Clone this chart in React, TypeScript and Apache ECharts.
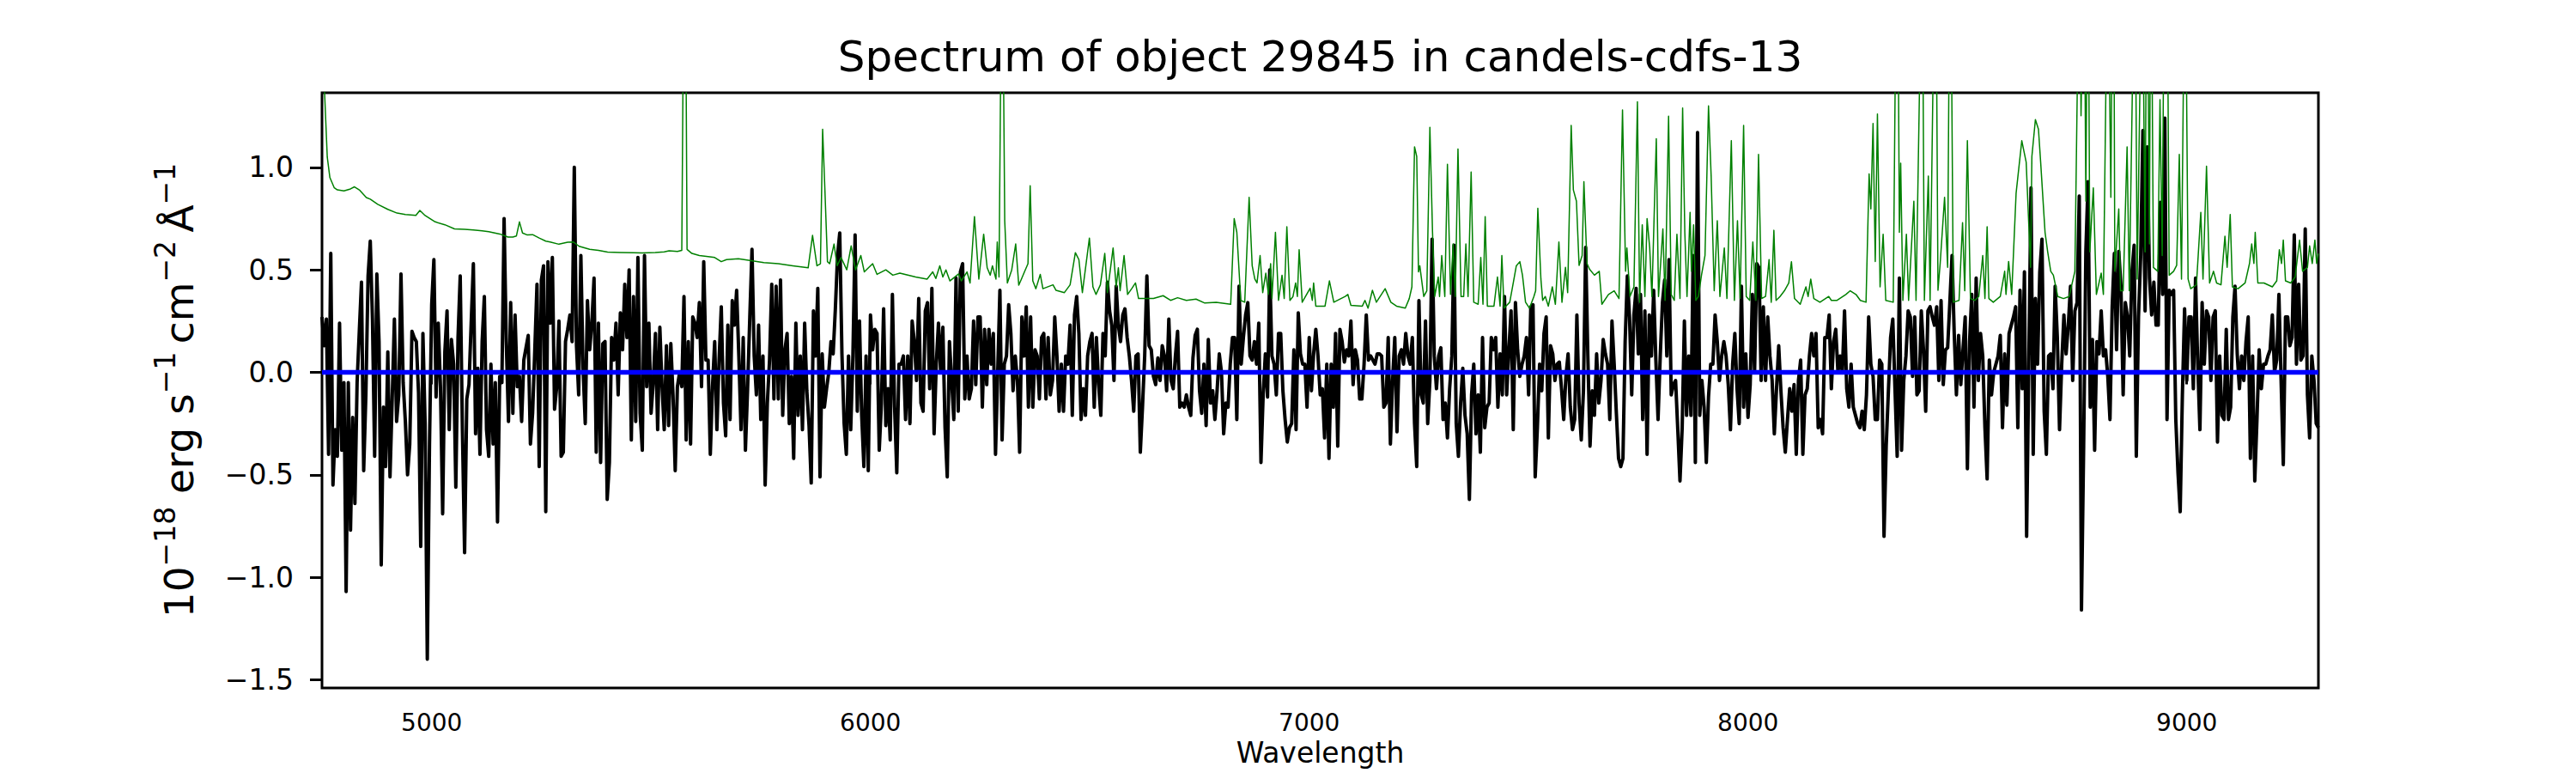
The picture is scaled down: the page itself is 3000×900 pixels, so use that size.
import React, { useEffect, useRef } from "react";
import * as echarts from "echarts";

const TITLE = "Spectrum of object 29845 in candels-cdfs-13";
const X_LABEL = "Wavelength";
const X_RANGE = [4750, 9300];
const Y_RANGE = [-1.54, 1.364];
const X_TICKS = [5000, 6000, 7000, 8000, 9000];
const Y_TICKS = [-1.5, -1.0, -0.5, 0.0, 0.5, 1.0];
const ZERO_LEVEL = 0;

const WAVE_START = 4750;
const WAVE_STEP = 5;
const FLUX = [
  0.27, 0.13, 0.26, -0.40, 0.58, -0.55, -0.28, -0.41, 0.24, -0.38,
  -0.05, -1.07, -0.05, -0.77, -0.22, -0.64, -0.05, 0.20, 0.44, -0.48,
  -0.11, 0.47, 0.64, 0.26, -0.41, 0.48, 0.15, -0.94, -0.17, -0.46,
  0.10, -0.51, -0.13, 0.26, -0.24, -0.11, 0.48, -0.05, -0.24, -0.50,
  -0.35, 0.20, 0.17, 0.15, -0.10, -0.85, 0.19, -0.25, -1.40, -0.35,
  0.33, 0.55, -0.12, 0.24, -0.07, -0.69, 0.10, 0.30, -0.28, 0.16,
  0.04, -0.56, 0.17, 0.47, -0.28, -0.88, -0.13, -0.06, 0.24, 0.53,
  -0.30, 0.02, -0.40, 0.15, 0.37, -0.28, -0.41, 0.04, -0.35, -0.05,
  -0.73, -0.02, -0.05, 0.75, 0.15, -0.24, 0.34, -0.20, 0.28, -0.07,
  -0.02, -0.24, 0.06, 0.12, 0.18, -0.35, -0.20, 0.11, 0.43, -0.46,
  0.45, 0.52, -0.68, 0.54, 0.24, 0.56, -0.18, -0.07, 0.25, -0.41,
  -0.39, 0.15, 0.21, 0.28, 0.15, 1.00, 0.13, -0.11, 0.57, 0.02,
  -0.25, 0.35, 0.11, 0.24, 0.46, -0.39, 0.24, -0.44, 0.14, 0.15,
  -0.62, -0.44, 0.17, 0.06, 0.24, -0.11, 0.29, 0.11, 0.43, 0.17,
  0.50, -0.33, 0.37, -0.24, 0.56, -0.20, -0.38, 0.57, -0.07, 0.24,
  -0.20, -0.05, 0.19, -0.28, 0.22, -0.07, -0.28, 0.13, -0.26, 0.14,
  -0.11, -0.48, -0.07, 0.00, -0.07, 0.37, -0.33, 0.15, -0.35, 0.27,
  0.24, 0.17, 0.34, -0.07, 0.54, 0.06, 0.06, -0.40, -0.07, 0.15,
  -0.28, 0.06, 0.32, -0.15, -0.31, 0.23, -0.23, 0.35, 0.23, 0.40,
  0.08, -0.28, 0.17, -0.38, -0.08, 0.27, 0.60, 0.08, -0.11, 0.23,
  -0.23, 0.08, -0.55, -0.15, 0.06, 0.43, -0.13, 0.42, -0.13, 0.45,
  -0.21, 0.11, 0.19, -0.25, -0.02, -0.42, 0.24, -0.21, 0.08, -0.28,
  0.24, -0.09, -0.26, -0.54, 0.30, 0.08, 0.41, -0.51, 0.09, -0.17,
  -0.08, 0.00, 0.15, 0.09, 0.31, 0.57, 0.68, 0.09, -0.25, -0.40,
  0.08, -0.28, 0.08, 0.67, -0.19, 0.25, -0.21, -0.46, 0.08, -0.48,
  0.28, 0.11, 0.21, 0.19, -0.38, -0.15, 0.31, -0.26, -0.08, -0.33,
  0.38, -0.17, -0.49, 0.04, 0.04, 0.08, -0.23, 0.08, -0.25, 0.25,
  0.15, -0.04, 0.36, -0.15, -0.19, 0.30, 0.34, -0.08, 0.41, -0.30,
  0.04, 0.24, 0.00, 0.22, -0.27, -0.51, 0.15, -0.04, -0.23, 0.46,
  -0.19, 0.49, 0.53, -0.13, 0.08, -0.13, -0.08, 0.25, -0.06, 0.27,
  0.27, -0.17, 0.21, -0.06, 0.21, 0.04, 0.19, -0.40, 0.00, 0.40,
  -0.33, 0.04, 0.08, 0.33, 0.19, -0.09, 0.08, -0.04, -0.39, 0.27,
  0.08, 0.32, -0.17, 0.27, -0.17, 0.11, 0.08, -0.13, 0.17, 0.19,
  -0.13, 0.17, -0.11, -0.04, 0.27, 0.08, -0.19, 0.04, -0.19, 0.08,
  0.04, 0.23, -0.21, 0.28, 0.37, 0.19, -0.23, -0.08, -0.21, 0.08,
  0.15, 0.19, -0.17, 0.17, -0.06, -0.21, 0.19, 0.08, 0.44, 0.30,
  0.23, -0.04, 0.42, 0.23, 0.15, 0.28, 0.31, 0.17, 0.08, -0.04,
  -0.19, 0.08, 0.09, -0.39, -0.17, 0.08, 0.47, 0.13, 0.11, -0.02,
  -0.06, 0.07, -0.04, 0.13, 0.08, -0.09, 0.26, -0.04, -0.08, 0.08,
  0.20, -0.17, -0.15, -0.17, -0.11, -0.17, -0.21, 0.07, 0.18, 0.21,
  -0.09, -0.20, 0.04, -0.26, 0.16, -0.15, -0.09, -0.23, -0.09, 0.09,
  0.00, -0.30, -0.15, -0.17, 0.04, 0.17, 0.17, -0.23, 0.42, 0.04,
  0.17, 0.28, 0.34, 0.08, 0.06, 0.15, 0.04, 0.24, -0.44, -0.11,
  0.09, -0.12, 0.50, 0.08, 0.04, -0.11, 0.19, 0.19, -0.09, -0.23,
  -0.34, -0.27, -0.25, 0.11, -0.28, 0.29, 0.09, 0.04, 0.04, -0.17,
  0.17, -0.09, 0.09, 0.21, 0.08, -0.11, -0.08, -0.32, 0.04, -0.42,
  0.04, -0.17, 0.19, -0.36, 0.21, 0.15, 0.05, 0.11, 0.08, 0.25,
  -0.06, 0.11, 0.06, -0.13, -0.13, 0.04, 0.28, 0.06, 0.08, 0.06,
  0.04, 0.09, 0.09, 0.08, -0.17, -0.15, 0.17, -0.35, -0.04, 0.17,
  -0.29, 0.08, 0.11, 0.04, 0.19, 0.08, 0.04, 0.17, -0.25, -0.46,
  0.35, -0.11, -0.15, 0.25, -0.25, -0.04, 0.65, 0.08, -0.08, 0.08,
  0.12, -0.23, -0.15, -0.32, -0.08, 0.08, 0.62, -0.25, -0.41, -0.15,
  0.02, -0.21, -0.30, -0.62, -0.11, 0.04, -0.30, -0.11, -0.39, 0.17,
  -0.27, -0.17, -0.15, 0.17, 0.11, 0.17, -0.17, 0.09, -0.11, 0.37,
  -0.11, 0.11, 0.30, -0.28, 0.34, 0.11, -0.02, 0.04, 0.08, 0.17,
  -0.11, 0.32, 0.33, -0.51, -0.27, 0.04, -0.09, 0.19, 0.27, -0.32,
  0.13, 0.09, -0.04, 0.04, 0.05, -0.08, -0.23, -0.02, 0.09, -0.17,
  -0.28, -0.23, 0.28, -0.15, -0.33, -0.09, 0.61, 0.08, -0.36, -0.09,
  -0.21, 0.09, -0.15, -0.04, 0.16, 0.09, 0.04, -0.23, 0.25, 0.04,
  -0.20, -0.42, -0.46, -0.42, 0.15, 0.47, 0.27, -0.11, 0.28, 0.41,
  0.09, 0.38, -0.23, 0.30, -0.40, 0.28, 0.08, 0.40, 0.06, -0.23,
  0.08, 0.34, 0.45, 0.08, 0.55, -0.11, -0.06, -0.04, -0.28, -0.53,
  -0.27, 0.25, -0.21, 0.08, -0.21, 0.57, -0.44, 1.17, -0.21, -0.04,
  -0.17, -0.44, -0.12, 0.04, 0.04, 0.28, 0.15, -0.04, 0.08, 0.15,
  0.08, -0.06, -0.28, 0.04, 0.19, -0.08, -0.25, 0.42, -0.17, 0.09,
  -0.22, -0.06, 0.38, 0.00, 0.53, 0.51, -0.04, 0.32, -0.04, 0.27,
  0.08, -0.04, -0.30, -0.08, 0.13, -0.09, -0.27, -0.39, -0.23, -0.08,
  -0.19, -0.06, -0.40, -0.04, 0.06, -0.40, -0.11, -0.08, 0.08, 0.19,
  0.08, 0.19, -0.27, -0.23, -0.30, 0.17, 0.17, 0.28, -0.08, 0.15,
  0.21, 0.00, 0.08, 0.00, 0.30, -0.08, -0.17, 0.04, -0.17, -0.21,
  -0.25, -0.27, -0.19, -0.28, -0.11, 0.27, 0.04, -0.02, -0.23, -0.23,
  0.06, 0.04, -0.80, -0.36, -0.09, 0.17, 0.26, -0.08, -0.41, 0.46,
  -0.38, -0.04, 0.08, 0.30, 0.27, -0.02, 0.27, -0.11, -0.09, 0.30,
  0.11, -0.19, 0.30, 0.32, 0.27, 0.23, 0.32, -0.04, 0.35, -0.06,
  0.11, 0.12, 0.34, 0.57, 0.19, -0.11, 0.18, -0.06, 0.11, 0.27,
  -0.47, 0.15, 0.38, -0.17, 0.46, -0.04, 0.19, 0.08, -0.27, -0.52,
  0.06, -0.11, 0.00, 0.04, 0.08, 0.18, -0.27, 0.09, -0.16, 0.19,
  0.23, 0.27, 0.32, -0.27, 0.40, -0.08, 0.49, -0.80, 0.04, 0.90,
  -0.40, 0.36, 0.04, 0.49, 0.65, -0.19, -0.40, 0.08, 0.09, -0.08,
  0.42, 0.17, -0.28, 0.04, 0.28, 0.09, 0.23, 0.42, -0.04, 0.30,
  0.34, 0.86, -1.16, -0.36, 0.59, 0.93, -0.17, 0.16, -0.38, 0.15,
  0.09, 0.30, 0.08, 0.11, -0.02, -0.23, 0.32, 0.58, 0.11, 0.59,
  0.42, -0.11, 0.34, 0.27, 0.08, 0.49, 0.62, -0.41, 0.27, 0.57,
  1.18, 0.30, 1.10, 0.46, 0.28, 0.44, 0.23, 0.23, 0.83, 0.38,
  1.24, -0.23, 0.40, 0.38, 0.40, -0.23, -0.49, -0.68, -0.11, 0.31,
  -0.04, 0.27, 0.27, -0.08, 0.46, 0.04, -0.28, 0.34, 0.04, 0.30,
  0.27, -0.04, 0.27, 0.30, -0.34, 0.08, -0.21, -0.23, 0.21, -0.23,
  -0.17, 0.27, 0.42, 0.09, -0.08, 0.08, -0.04, 0.15, 0.27, -0.42,
  0.08, -0.53, -0.23, 0.11, -0.08, 0.04, 0.04, 0.08, 0.11, 0.28,
  0.00, 0.06, 0.38, -0.04, -0.45, 0.27, 0.27, 0.13, 0.17, 0.67,
  0.04, 0.43, 0.06, 0.08, 0.70, -0.11, -0.32, 0.08, -0.04, -0.25,
  -0.27,
];

// Noise / error spectrum as [wavelength, value] vertices (values above the top are clipped)
const NOISE: [number, number][] = [
  [4750,1.8],[4756,1.36],[4762,1.05],[4768,0.95],[4778,0.9],[4785,0.89],[4800,0.885],[4815,0.895],[4824,0.905],[4835,0.89],
  [4851,0.853],[4860,0.845],[4877,0.82],[4900,0.795],[4921,0.777],[4940,0.77],[4964,0.766],[4973,0.79],[4985,0.765],[5008,0.734],
  [5030,0.72],[5052,0.7],[5075,0.698],[5095,0.695],[5115,0.69],[5130,0.686],[5155,0.675],[5174,0.66],[5185,0.66],[5193,0.665],
  [5200,0.734],[5207,0.68],[5218,0.67],[5230,0.672],[5245,0.655],[5260,0.64],[5270,0.636],[5290,0.625],[5310,0.635],[5323,0.636],
  [5336,0.615],[5360,0.6],[5380,0.595],[5401,0.587],[5430,0.585],[5460,0.584],[5480,0.582],[5510,0.585],[5530,0.588],[5541,0.593],
  [5560,0.59],[5570,0.595],[5574,1.8],[5579,1.8],[5582,0.6],[5593,0.58],[5610,0.57],[5630,0.565],[5645,0.56],[5660,0.54],
  [5672,0.55],[5699,0.554],[5725,0.546],[5757,0.535],[5790,0.53],[5823,0.52],[5858,0.51],[5868,0.668],[5878,0.52],[5886,0.53],
  [5891,1.186],[5896,0.9],[5902,0.54],[5907,0.53],[5917,0.626],[5924,0.52],[5933,0.56],[5946,0.5],[5956,0.617],[5966,0.5],
  [5978,0.57],[5986,0.49],[6005,0.53],[6015,0.478],[6035,0.5],[6051,0.474],[6067,0.484],[6103,0.465],[6129,0.455],[6142,0.49],
  [6149,0.458],[6158,0.52],[6165,0.465],[6172,0.5],[6181,0.446],[6201,0.48],[6207,0.446],[6220,0.49],[6227,0.436],[6237,0.76],
  [6247,0.455],[6258,0.674],[6266,0.51],[6273,0.474],[6278,0.52],[6286,0.455],[6289,0.636],[6293,0.465],[6298,1.8],[6302,1.8],
  [6306,0.74],[6312,0.436],[6322,0.5],[6331,0.626],[6338,0.425],[6344,0.455],[6351,0.49],[6359,0.53],[6364,0.91],[6370,0.446],
  [6377,0.408],[6387,0.478],[6393,0.408],[6416,0.427],[6423,0.4],[6442,0.389],[6455,0.427],[6467,0.584],[6475,0.55],[6483,0.389],
  [6499,0.655],[6507,0.417],[6514,0.38],[6524,0.427],[6534,0.58],[6540,0.389],[6553,0.607],[6560,0.417],[6565,0.51],[6569,0.398],
  [6578,0.57],[6586,0.38],[6596,0.41],[6604,0.436],[6611,0.36],[6625,0.36],[6645,0.36],[6667,0.374],[6684,0.351],[6700,0.364],
  [6720,0.351],[6742,0.357],[6762,0.338],[6788,0.342],[6821,0.332],[6829,0.75],[6835,0.683],[6844,0.351],[6853,0.342],[6863,0.854],
  [6870,0.52],[6876,0.455],[6881,0.436],[6888,0.57],[6894,0.389],[6901,0.484],[6907,0.38],[6912,0.53],[6915,0.36],[6923,0.683],
  [6930,0.351],[6938,0.474],[6943,0.36],[6949,0.71],[6956,0.351],[6963,0.37],[6969,0.436],[6973,0.37],[6977,0.598],[6984,0.342],
  [7002,0.41],[7007,0.351],[7010,0.436],[7015,0.323],[7036,0.323],[7046,0.446],[7056,0.342],[7082,0.37],[7088,0.38],[7095,0.327],
  [7121,0.323],[7127,0.351],[7134,0.313],[7144,0.4],[7153,0.342],[7173,0.408],[7186,0.342],[7199,0.323],[7219,0.313],[7228,0.36],
  [7234,0.417],[7240,1.1],[7245,1.053],[7249,0.49],[7252,0.52],[7261,0.37],[7268,0.398],[7275,1.195],[7281,0.683],[7286,0.37],
  [7294,0.465],[7297,0.37],[7302,0.57],[7309,0.37],[7315,1.015],[7322,0.38],[7328,0.626],[7333,0.37],[7339,1.09],[7346,0.37],
  [7352,0.37],[7357,0.626],[7362,0.37],[7369,0.977],[7375,0.342],[7385,0.332],[7391,0.56],[7396,0.332],[7401,0.76],[7406,0.323],
  [7421,0.323],[7429,0.465],[7435,0.323],[7439,0.57],[7444,0.313],[7457,0.342],[7465,0.436],[7472,0.52],[7480,0.54],[7486,0.474],
  [7493,0.342],[7502,0.313],[7512,0.37],[7516,0.398],[7521,0.8],[7528,0.455],[7532,0.351],[7538,0.37],[7545,0.323],[7554,0.417],
  [7561,0.332],[7569,0.636],[7576,0.342],[7584,0.512],[7589,0.389],[7597,1.205],[7602,0.89],[7609,0.835],[7615,0.522],[7622,0.57],
  [7626,0.93],[7633,0.531],[7639,0.503],[7650,0.474],[7661,0.493],[7667,0.332],[7682,0.38],[7695,0.398],[7706,0.36],[7714,1.28],
  [7721,0.493],[7724,0.607],[7731,0.37],[7740,0.417],[7748,1.32],[7753,0.342],[7759,0.72],[7765,0.37],[7770,0.75],[7776,0.607],
  [7781,0.37],[7791,1.14],[7796,0.37],[7806,0.7],[7811,0.351],[7819,1.25],[7825,0.38],[7832,0.351],[7838,0.674],[7845,0.36],
  [7851,1.29],[7856,0.683],[7861,0.37],[7868,0.78],[7871,0.493],[7876,0.72],[7881,0.351],[7887,0.37],[7894,0.474],[7902,0.57],
  [7910,1.3],[7916,0.958],[7923,0.398],[7930,0.74],[7936,0.37],[7946,0.607],[7952,0.36],[7962,1.13],[7969,0.351],[7976,0.74],
  [7982,0.36],[7990,1.205],[7996,0.37],[8004,0.351],[8011,0.636],[8018,0.351],[8024,1.063],[8031,0.36],[8040,0.37],[8048,0.55],
  [8053,0.342],[8059,0.693],[8064,0.351],[8073,0.37],[8083,0.398],[8093,0.436],[8099,0.54],[8106,0.36],[8119,0.332],[8132,0.417],
  [8137,0.37],[8143,0.455],[8150,0.36],[8164,0.342],[8184,0.37],[8190,0.351],[8203,0.351],[8223,0.38],[8233,0.398],[8246,0.38],
  [8256,0.351],[8269,0.342],[8276,0.968],[8280,0.797],[8285,1.214],[8290,0.541],[8295,1.26],[8301,0.417],[8308,0.674],[8314,0.351],
  [8331,0.342],[8337,1.8],[8342,1.8],[8345,0.683],[8348,1.02],[8353,0.351],[8361,0.674],[8366,0.351],[8378,0.835],[8383,0.351],
  [8394,1.8],[8398,1.8],[8402,0.351],[8411,0.958],[8415,0.351],[8424,1.8],[8429,1.8],[8433,0.4],[8438,0.531],[8448,0.854],
  [8455,0.512],[8459,1.8],[8463,1.8],[8468,0.342],[8481,0.351],[8489,0.73],[8494,0.398],[8500,1.13],[8507,0.36],[8517,0.351],
  [8526,0.37],[8535,0.57],[8540,0.36],[8545,0.71],[8549,0.36],[8559,0.342],[8575,0.37],[8585,0.493],[8588,0.38],[8594,0.541],
  [8601,0.38],[8611,0.873],[8624,1.13],[8634,1.025],[8644,0.512],[8647,1.053],[8655,1.233],[8662,1.186],[8667,1.025],[8677,0.683],
  [8683,0.588],[8690,0.493],[8696,0.474],[8706,0.37],[8719,0.36],[8732,0.37],[8745,0.493],[8753,1.8],[8757,1.8],[8759,1.252],
  [8763,1.8],[8767,1.8],[8770,0.835],[8773,1.8],[8776,1.8],[8779,0.588],[8787,0.9],[8794,0.38],[8805,0.484],[8810,0.38],
  [8818,1.8],[8822,1.8],[8827,0.854],[8830,1.8],[8834,1.8],[8836,0.493],[8845,0.797],[8849,0.398],[8855,0.398],[8864,1.1],
  [8869,0.398],[8879,1.8],[8883,1.8],[8887,0.455],[8896,1.8],[8900,1.8],[8905,0.588],[8908,1.8],[8911,1.8],[8915,0.626],
  [8917,1.8],[8920,1.8],[8924,0.512],[8934,0.493],[8939,1.33],[8944,0.57],[8948,1.8],[8956,1.8],[8960,0.474],[8970,0.493],
  [8977,0.522],[8983,1.063],[8988,0.455],[8994,1.8],[8998,1.8],[9003,0.455],[9009,0.408],[9022,0.427],[9032,0.78],[9037,0.455],
  [9045,1.006],[9052,0.436],[9061,0.493],[9068,0.436],[9078,0.427],[9087,0.664],[9092,0.512],[9099,0.77],[9104,0.417],[9117,0.408],
  [9133,0.436],[9143,0.531],[9148,0.626],[9153,0.531],[9156,0.683],[9162,0.436],[9176,0.436],[9195,0.417],[9205,0.446],[9211,0.598],
  [9216,0.531],[9220,0.645],[9225,0.446],[9237,0.436],[9247,0.465],[9257,0.645],[9264,0.493],[9275,0.512],[9280,0.617],[9286,0.531],
  [9292,0.645],[9296,0.531],[9300,0.58],
];

const FONT = "DejaVu Sans";
const MINUS = "\u2212";

function fmtTick(v: number): string {
  const s = Math.abs(v).toFixed(1);
  return v < 0 ? MINUS + s : s;
}

export default function App() {
  const ref = useRef<HTMLDivElement>(null);

  useEffect(() => {
    document.body.style.margin = "0";
    const el = ref.current;
    if (!el) return;
    const chart = echarts.init(el, null, { renderer: "svg" });

    const fluxData = FLUX.map((v, i) => [WAVE_START + i * WAVE_STEP, v]);
    const zeroData = [
      [X_RANGE[0], ZERO_LEVEL],
      [X_RANGE[1], ZERO_LEVEL],
    ];

    const gridLeft = 375;
    const gridTop = 108;
    const gridRight = 300;
    const gridBottom = 99;
    const plotCenterX = gridLeft + (3000 - gridLeft - gridRight) / 2;
    const plotCenterY = gridTop + (900 - gridTop - gridBottom) / 2;

    chart.setOption({
      animation: false,
      backgroundColor: "#ffffff",
      textStyle: { fontFamily: FONT },
      grid: {
        left: gridLeft,
        top: gridTop,
        right: gridRight,
        bottom: gridBottom,
        show: true,
        borderColor: "#000000",
        borderWidth: 3,
        backgroundColor: "transparent",
        containLabel: false,
      },
      xAxis: {
        type: "value",
        min: X_RANGE[0],
        max: X_RANGE[1],
        axisLine: { show: false },
        splitLine: { show: false },
        axisTick: {
          show: true,
          length: 14,
          lineStyle: { color: "#000", width: 3 },
          customValues: X_TICKS,
        },
        axisLabel: {
          show: true,
          margin: 26,
          fontSize: 28,
          color: "#000",
          fontFamily: FONT,
          customValues: X_TICKS,
          formatter: (v: number) => String(Math.round(v)),
        },
      },
      yAxis: {
        type: "value",
        min: Y_RANGE[0],
        max: Y_RANGE[1],
        axisLine: { show: false },
        splitLine: { show: false },
        axisTick: {
          show: true,
          length: 14,
          lineStyle: { color: "#000", width: 3 },
          customValues: Y_TICKS,
        },
        axisLabel: {
          show: true,
          margin: 33,
          fontSize: 33,
          color: "#000",
          fontFamily: FONT,
          customValues: Y_TICKS,
          formatter: (v: number) => fmtTick(v),
        },
      },
      graphic: [
        {
          type: "text",
          x: plotCenterX,
          y: 66,
          style: {
            text: TITLE,
            fontSize: 50,
            fontFamily: FONT,
            fill: "#000",
            align: "center",
            verticalAlign: "middle",
          },
        },
        {
          type: "text",
          x: plotCenterX,
          y: 876,
          style: {
            text: X_LABEL,
            fontSize: 33,
            fontFamily: FONT,
            fill: "#000",
            align: "center",
            verticalAlign: "middle",
          },
        },
        {
          type: "text",
          x: 204,
          y: plotCenterY,
          rotation: Math.PI / 2,
          style: {
            text:
              "{b|10}{s|" + MINUS + "18}{b| erg s}{s|" + MINUS + "1}{b|\u2009cm}{s|" + MINUS + "2}{b|\u2009\u00C5}{s|" + MINUS + "1}",
            fontFamily: FONT,
            fill: "#000",
            align: "center",
            verticalAlign: "middle",
            rich: {
              b: { fontSize: 47, fontFamily: FONT, fill: "#000", lineHeight: 56, verticalAlign: "bottom" },
              s: { fontSize: 33, fontFamily: FONT, fill: "#000", lineHeight: 56, verticalAlign: "top" },
            },
          },
        },
      ],
      series: [
        {
          type: "line",
          data: fluxData,
          showSymbol: false,
          symbol: "none",
          clip: true,
          lineStyle: { color: "#000000", width: 4, join: "round" },
          z: 2,
        },
        {
          type: "line",
          data: NOISE,
          showSymbol: false,
          symbol: "none",
          clip: true,
          lineStyle: { color: "#008000", width: 1.5, join: "round" },
          z: 3,
        },
        {
          type: "line",
          data: zeroData,
          showSymbol: false,
          symbol: "none",
          clip: true,
          lineStyle: { color: "#0000ff", width: 5.5 },
          z: 4,
        },
      ],
    });

    return () => {
      chart.dispose();
    };
  }, []);

  return <div ref={ref} style={{ width: 3000, height: 900 }} />;
}
